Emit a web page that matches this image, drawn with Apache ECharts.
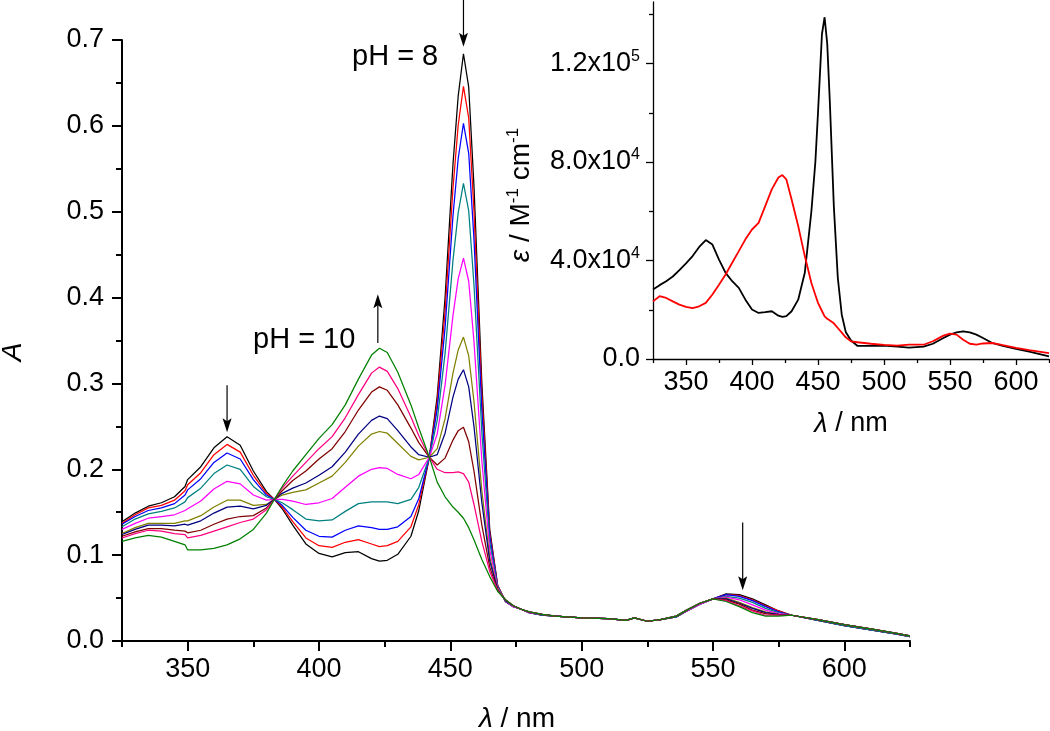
<!DOCTYPE html>
<html><head><meta charset="utf-8">
<script src="https://cdn.jsdelivr.net/npm/echarts@6/dist/echarts.min.js"></script>
<style>html,body{margin:0;padding:0;background:#fff}#c{width:1050px;height:731px}</style>
</head><body><div id="c"></div>
<script>
// ---------- main panel: titration spectra (A vs wavelength) ----------
const wavelengths = [325,330,335,340,345,349,350,355,360,365,370,375,380,383,386,390,395,400,405,410,415,420,423,426,430,435,438,442,445,448,451,453,455,457,459,462,465,468,471,474,477,480,485,490,500,510,517,520,525,530,536,540,545,550,555,560,565,570,575,580,590,600,610,620,625];

const absPH8 = [0.139,0.149,0.157,0.161,0.168,0.180,0.188,0.203,0.225,0.238,0.228,0.198,0.174,0.165,0.154,0.135,0.113,0.102,0.098,0.103,0.104,0.096,0.093,0.094,0.101,0.122,0.152,0.214,0.285,0.400,0.555,0.635,0.684,0.645,0.530,0.300,0.130,0.065,0.046,0.040,0.037,0.033,0.030,0.029,0.027,0.026,0.024,0.027,0.023,0.025,0.028,0.035,0.043,0.049,0.055,0.054,0.049,0.042,0.035,0.030,0.024,0.018,0.013,0.008,0.005];
const absStep2 = [0.137,0.147,0.155,0.158,0.164,0.175,0.182,0.196,0.217,0.229,0.220,0.193,0.172,0.165,0.156,0.139,0.120,0.111,0.109,0.115,0.118,0.113,0.110,0.111,0.116,0.133,0.159,0.214,0.278,0.384,0.527,0.601,0.646,0.609,0.501,0.286,0.126,0.065,0.046,0.040,0.037,0.033,0.030,0.029,0.027,0.026,0.024,0.027,0.023,0.025,0.028,0.035,0.043,0.049,0.054,0.053,0.048,0.041,0.035,0.030,0.024,0.018,0.013,0.008,0.005];
const absStep3 = [0.136,0.145,0.152,0.155,0.160,0.170,0.176,0.189,0.208,0.219,0.212,0.188,0.170,0.165,0.158,0.144,0.129,0.122,0.121,0.129,0.134,0.132,0.130,0.130,0.133,0.145,0.166,0.214,0.270,0.365,0.495,0.562,0.603,0.568,0.468,0.269,0.122,0.064,0.046,0.040,0.037,0.033,0.030,0.029,0.027,0.026,0.024,0.027,0.023,0.025,0.028,0.035,0.043,0.049,0.054,0.052,0.047,0.040,0.034,0.030,0.024,0.018,0.013,0.008,0.005];
const absStep4 = [0.133,0.142,0.148,0.151,0.155,0.162,0.167,0.178,0.195,0.205,0.200,0.180,0.168,0.165,0.161,0.153,0.142,0.140,0.141,0.151,0.160,0.162,0.162,0.162,0.160,0.165,0.179,0.214,0.257,0.335,0.443,0.499,0.533,0.501,0.415,0.243,0.115,0.063,0.047,0.040,0.037,0.033,0.030,0.029,0.027,0.026,0.024,0.027,0.023,0.025,0.028,0.035,0.043,0.049,0.052,0.050,0.045,0.038,0.033,0.030,0.024,0.018,0.013,0.008,0.005];
const absStep5 = [0.130,0.137,0.143,0.145,0.147,0.152,0.154,0.163,0.177,0.186,0.183,0.170,0.164,0.165,0.165,0.163,0.159,0.161,0.166,0.179,0.192,0.200,0.202,0.201,0.194,0.189,0.194,0.214,0.241,0.298,0.379,0.422,0.446,0.419,0.349,0.210,0.106,0.062,0.047,0.040,0.037,0.033,0.031,0.029,0.027,0.026,0.024,0.027,0.023,0.025,0.029,0.035,0.043,0.049,0.051,0.048,0.042,0.036,0.032,0.030,0.025,0.019,0.014,0.009,0.006];
const absStep6 = [0.125,0.132,0.137,0.137,0.137,0.140,0.140,0.146,0.156,0.164,0.164,0.158,0.159,0.165,0.170,0.173,0.176,0.184,0.192,0.208,0.227,0.241,0.244,0.242,0.230,0.215,0.211,0.214,0.224,0.259,0.312,0.339,0.354,0.332,0.279,0.175,0.097,0.061,0.047,0.041,0.037,0.034,0.031,0.029,0.027,0.026,0.024,0.027,0.023,0.025,0.029,0.036,0.044,0.049,0.050,0.045,0.039,0.034,0.031,0.030,0.025,0.019,0.014,0.009,0.006];
const absStep7 = [0.124,0.130,0.135,0.135,0.134,0.136,0.135,0.140,0.149,0.156,0.157,0.154,0.158,0.165,0.172,0.178,0.184,0.193,0.203,0.220,0.241,0.257,0.262,0.259,0.245,0.226,0.217,0.214,0.217,0.242,0.284,0.305,0.316,0.296,0.250,0.161,0.093,0.060,0.047,0.041,0.037,0.034,0.031,0.029,0.027,0.026,0.024,0.027,0.023,0.025,0.029,0.036,0.044,0.049,0.049,0.044,0.038,0.033,0.031,0.030,0.025,0.019,0.014,0.009,0.006];
const absStep8 = [0.122,0.127,0.131,0.131,0.129,0.128,0.126,0.129,0.136,0.142,0.145,0.146,0.155,0.165,0.175,0.187,0.198,0.212,0.224,0.244,0.269,0.290,0.296,0.292,0.275,0.248,0.231,0.214,0.205,0.213,0.234,0.245,0.249,0.232,0.198,0.135,0.086,0.059,0.048,0.041,0.037,0.034,0.031,0.029,0.027,0.026,0.024,0.027,0.023,0.025,0.029,0.036,0.044,0.049,0.048,0.043,0.036,0.032,0.030,0.030,0.025,0.019,0.014,0.009,0.006];
const absStep9 = [0.120,0.125,0.129,0.128,0.125,0.124,0.120,0.123,0.128,0.133,0.138,0.142,0.153,0.165,0.178,0.192,0.208,0.224,0.238,0.260,0.287,0.312,0.319,0.314,0.294,0.261,0.239,0.214,0.200,0.196,0.196,0.197,0.195,0.185,0.159,0.116,0.081,0.059,0.048,0.041,0.037,0.034,0.031,0.029,0.027,0.026,0.024,0.027,0.023,0.025,0.029,0.036,0.044,0.049,0.047,0.041,0.035,0.030,0.030,0.030,0.025,0.019,0.014,0.009,0.006];
const absPH10 = [0.116,0.120,0.123,0.121,0.116,0.112,0.106,0.106,0.108,0.112,0.119,0.130,0.149,0.165,0.180,0.198,0.217,0.236,0.252,0.275,0.305,0.333,0.341,0.336,0.313,0.275,0.248,0.214,0.185,0.168,0.156,0.150,0.143,0.132,0.118,0.095,0.075,0.058,0.048,0.041,0.037,0.034,0.031,0.029,0.027,0.026,0.024,0.027,0.023,0.025,0.029,0.036,0.044,0.049,0.046,0.040,0.033,0.029,0.029,0.030,0.025,0.019,0.014,0.009,0.006];

const curveColors = ['#000000','#ff0000','#0000ff','#008080','#ff00ff','#808000','#000080','#800000','#ff0080','#008000'];

const mainXTicks = [350,400,450,500,550,600];
const mainXMinorTicks = [325,375,425,475,525,575,625];

// arrows: [wavelength, tail A, tip A]
const arrowMarks = [[365, 0.298, 0.243], [455, 0.747, 0.692], [422.4, 0.347, 0.404], [561.3, 0.138, 0.059]];

// ---------- inset: molar absorptivity of the two limiting species ----------
const insetWavelengths = [325,330,335,340,345,350,355,360,365,370,375,380,385,390,395,400,405,410,415,420,423,426,430,435,440,445,448,450,453,455,457,459,462,465,468,471,475,480,490,500,510,519,530,537,545,550,555,560,565,570,575,582,590,600,610,625];
const epsPH8 = [28200,30000,31600,33500,36100,38800,41800,45500,48300,46500,40400,35000,31600,28900,24100,20100,18700,19000,19400,17600,17100,17400,19400,24100,35000,60000,80000,100000,132000,138800,128000,104000,62000,33000,18000,11000,7500,5300,5300,5400,5000,4600,5000,6200,8500,9900,10800,11200,10800,9900,8500,6500,5300,4100,3000,1100];
const epsPH10 = [23400,25500,24800,23400,22100,21200,20700,21400,22800,26200,30200,34300,39100,43800,48600,52600,55300,62100,68900,73700,74700,73000,64800,54000,41800,30900,26000,22800,19500,17300,16300,15600,14500,12600,10700,8800,7200,6800,6200,5700,5400,5800,5800,7200,9500,10300,9900,7800,6200,5800,6300,6500,5600,4500,3600,2400];

const insetXTicks = [350,400,450,500,550,600];
const insetXMinorTicks = [325,375,425,475,525,575,625];
const insetYTicks = [0,40000,80000,120000];
const insetYMinorTicks = [20000,60000,100000,140000];

// ---------- chart ----------
const FONT = '"Liberation Sans", Arial, Helvetica, sans-serif';
const chart = echarts.init(document.getElementById('c'), null, {renderer:'canvas'});
const pairs = (xs, ys) => xs.map((x, i) => [x, ys[i]]);
const titrationCurves = [absPH8, absStep2, absStep3, absStep4, absStep5, absStep6, absStep7, absStep8, absStep9, absPH10];

const series = titrationCurves.map((ys, k) => ({
  type: 'line', xAxisIndex: 0, yAxisIndex: 0,
  data: pairs(wavelengths, ys),
  showSymbol: false, symbol: 'none', silent: true, clip: false,
  lineStyle: {color: curveColors[k], width: 1.25},
  itemStyle: {color: curveColors[k]}
}));

series.push({
  type: 'line', xAxisIndex: 2, yAxisIndex: 2, data: pairs(insetWavelengths, epsPH8),
  showSymbol: false, symbol: 'none', silent: true,
  lineStyle: {color: '#000', width: 1.8}
});
series.push({
  type: 'line', xAxisIndex: 2, yAxisIndex: 2, data: pairs(insetWavelengths, epsPH10),
  showSymbol: false, symbol: 'none', silent: true,
  lineStyle: {color: '#ff0000', width: 1.8}
});

function sciLabel(v) {
  if (v === 0) return '{n|0.0}';
  const e = Math.floor(Math.log10(v) + 1e-9);
  const m = v / Math.pow(10, e);
  return '{n|' + m.toFixed(1) + 'x10}{s|' + e + '}';
}

const option = {
  animation: false,
  backgroundColor: '#fff',
  textStyle: {fontFamily: FONT},
  grid: [
    {left: 122, top: 40, right: 140, bottom: 90},
    {left: 653, top: 2, right: 1, bottom: 372}
  ],
  xAxis: [
    {gridIndex: 0, type: 'value', min: 325, max: 625, position: 'bottom',
     axisLine: {show: true, onZero: false, lineStyle: {color: '#000', width: 2}},
     axisTick: {show: true, customValues: mainXTicks, length: 10, lineStyle: {color: '#000', width: 2}},
     axisLabel: {customValues: mainXTicks, fontSize: 27, color: '#000', margin: 15, fontFamily: FONT},
     splitLine: {show: false}},
    {gridIndex: 0, type: 'value', min: 325, max: 625, position: 'bottom',
     axisLine: {show: false},
     axisTick: {show: true, customValues: mainXMinorTicks, length: 6, lineStyle: {color: '#000', width: 2}},
     axisLabel: {show: false}, splitLine: {show: false}},
    {gridIndex: 1, type: 'value', min: 325, max: 625, position: 'bottom',
     axisLine: {show: true, onZero: false, lineStyle: {color: '#000', width: 1.3}},
     axisTick: {show: true, customValues: insetXTicks, length: 6, lineStyle: {color: '#000', width: 1.3}},
     axisLabel: {customValues: insetXTicks, fontSize: 27, color: '#000', margin: 10, fontFamily: FONT},
     splitLine: {show: false}},
    {gridIndex: 1, type: 'value', min: 325, max: 625, position: 'bottom',
     axisLine: {show: false},
     axisTick: {show: true, customValues: insetXMinorTicks, length: 4, lineStyle: {color: '#000', width: 1.3}},
     axisLabel: {show: false}, splitLine: {show: false}}
  ],
  yAxis: [
    {gridIndex: 0, type: 'value', min: 0, max: 0.7, interval: 0.1, position: 'left',
     axisLine: {show: true, onZero: false, lineStyle: {color: '#000', width: 2}},
     axisTick: {show: true, length: 10, lineStyle: {color: '#000', width: 2}},
     minorTick: {show: true, splitNumber: 2, length: 6, lineStyle: {color: '#000', width: 2}},
     axisLabel: {fontSize: 27, color: '#000', margin: 18, fontFamily: FONT, formatter: v => v.toFixed(1)},
     splitLine: {show: false}, minorSplitLine: {show: false}},
    {gridIndex: 1, type: 'value', min: 0, max: 145000, position: 'left',
     axisLine: {show: true, onZero: false, lineStyle: {color: '#000', width: 1.3}},
     axisTick: {show: true, customValues: insetYTicks, length: 7, lineStyle: {color: '#000', width: 1.3}},
     axisLabel: {customValues: insetYTicks, margin: 13, formatter: sciLabel,
       rich: {n: {fontSize: 27, color: '#000', fontFamily: FONT, lineHeight: 30},
              s: {fontSize: 16, color: '#000', fontFamily: FONT, verticalAlign: 'top', lineHeight: 16}}},
     splitLine: {show: false}},
    {gridIndex: 1, type: 'value', min: 0, max: 145000, position: 'left',
     axisLine: {show: false},
     axisTick: {show: true, customValues: insetYMinorTicks, length: 4, lineStyle: {color: '#000', width: 1.3}},
     axisLabel: {show: false}, splitLine: {show: false}}
  ],
  graphic: [
    {id: 'nameA', type: 'text', x: 13, y: 352, rotation: Math.PI / 2, silent: true,
     style: {text: 'A', fontSize: 28, fontStyle: 'italic', fontFamily: FONT, fill: '#000', align: 'center', verticalAlign: 'middle'}},
    {id: 'nameX', type: 'text', x: 517, y: 719, silent: true,
     style: {text: '{i|λ} / nm', rich: {i: {fontStyle: 'italic', fontSize: 28, fontFamily: FONT, fill: '#000'}},
             fontSize: 28, fontFamily: FONT, fill: '#000', align: 'center', verticalAlign: 'middle'}},
    {id: 'nameX2', type: 'text', x: 851, y: 424, silent: true,
     style: {text: '{i|λ} / nm', rich: {i: {fontStyle: 'italic', fontSize: 27, fontFamily: FONT, fill: '#000'}},
             fontSize: 27, fontFamily: FONT, fill: '#000', align: 'center', verticalAlign: 'middle'}},
    {id: 'nameY2', type: 'text', x: 521, y: 195, rotation: Math.PI / 2, silent: true,
     style: {text: '{i|ε} / M{s|-1} cm{s|-1}',
             rich: {i: {fontStyle: 'italic', fontSize: 28, fontFamily: FONT, fill: '#000', lineHeight: 32},
                    s: {fontSize: 17, fontFamily: FONT, fill: '#000', verticalAlign: 'top', lineHeight: 17}},
             fontSize: 28, lineHeight: 32, fontFamily: FONT, fill: '#000', align: 'center', verticalAlign: 'middle'}},
    {id: 'ph8', type: 'text', x: 352, y: 57, silent: true,
     style: {text: 'pH = 8', fontSize: 29, fontFamily: FONT, fill: '#000', align: 'left', verticalAlign: 'middle'}},
    {id: 'ph10', type: 'text', x: 253, y: 340, silent: true,
     style: {text: 'pH = 10', fontSize: 29, fontFamily: FONT, fill: '#000', align: 'left', verticalAlign: 'middle'}}
  ],
  series: series
};
chart.setOption(option);

// arrows placed through the main grid's coordinate system
const arrowGraphics = [];
arrowMarks.forEach((a, i) => {
  const p0 = chart.convertToPixel({gridIndex: 0}, [a[0], a[1]]);
  const p1 = chart.convertToPixel({gridIndex: 0}, [a[0], a[2]]);
  const dir = p1[1] > p0[1] ? 1 : -1;
  const headLen = 14, halfW = 4.5;
  arrowGraphics.push({id: 'arrowLine' + i, type: 'line', silent: true,
    shape: {x1: p0[0], y1: p0[1], x2: p1[0], y2: p1[1] - dir * 8},
    style: {stroke: '#000', lineWidth: 1.2}});
  arrowGraphics.push({id: 'arrowHead' + i, type: 'polygon', silent: true,
    shape: {points: [[p1[0] - halfW, p1[1] - dir * headLen], [p1[0], p1[1]], [p1[0] + halfW, p1[1] - dir * headLen], [p1[0], p1[1] - dir * (headLen - 3)]]},
    style: {fill: '#000'}});
});
chart.setOption({graphic: arrowGraphics});
</script>
</body></html>
